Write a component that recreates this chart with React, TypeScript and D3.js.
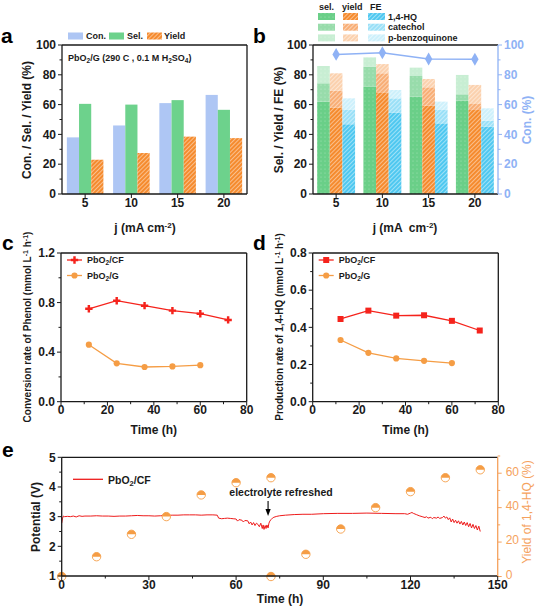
import React from "react";
import * as d3 from "d3";

const FONT = "'Liberation Sans', Arial, Helvetica, sans-serif";

// ---------- Panel a ----------
const currents = ["5", "10", "15", "20"];
const aConversion = [38, 46, 61, 66.5];
const aSelectivity = [60.5, 60, 63, 56.5];
const aYield = [23, 27.5, 38.5, 37.5];

// ---------- Panel b ----------
const bProducts = ["1,4-HQ", "catechol", "p-benzoquinone"];
const bSelHQ = [62, 72, 65.3, 62.6];
const bSelCatechol = [12.3, 13.4, 13.9, 4.3];
const bSelPBQ = [11.6, 6.3, 5.6, 13];
const bYieldHQ = [58, 68.2, 59.3, 56.4];
const bYieldCatechol = [11.3, 12.8, 12.3, 4];
const bYieldPBQ = [11.7, 6.2, 5.6, 12.8];
const bFeHQ = [46.8, 54.5, 47.4, 45.2];
const bFeCatechol = [9.6, 9.7, 9, 4];
const bFePBQ = [7.8, 5.6, 5.6, 8.3];
const bConversion = [93.7, 94.8, 90.6, 90.4];

// ---------- Panels c, d ----------
const cdTimeCF = [12, 24, 36, 48, 60, 72];
const cdTimeG = [12, 24, 36, 48, 60];
const cPhenolCF = [0.75, 0.815, 0.775, 0.735, 0.71, 0.66];
const cPhenolG = [0.46, 0.31, 0.28, 0.285, 0.295];
const dHqCF = [0.445, 0.49, 0.463, 0.465, 0.435, 0.383];
const dHqG = [0.332, 0.263, 0.233, 0.22, 0.208];

// ---------- Panel e ----------
const eTime = [
  0, 0.3, 0.6, 1, 2, 3, 4, 5, 6, 7, 8, 10, 12, 14, 16, 18, 20, 22, 24, 26, 28, 30, 32, 34, 36, 38, 40, 42, 44, 46, 48, 50, 52, 53.5,
  54, 55, 56, 57, 58, 59, 60, 60.5, 61, 62, 62.5, 63, 64, 64.5, 65, 65.5, 66, 66.5, 67, 67.5, 68, 68.5, 69, 69.3, 69.6, 70, 70.3, 70.6, 71,
  71.3, 71.6, 72, 72.5, 73, 74, 75, 77, 80, 83, 86, 90, 95, 100, 105, 110, 115, 118, 119, 120, 120.5, 121, 122, 123, 124, 125, 125.5, 126,
  127, 127.5, 128, 129, 129.5, 130, 131, 131.5, 132, 132.5, 133, 133.5, 134, 134.5, 135, 135.5, 136, 136.5, 137, 137.5, 138, 138.5, 139,
  139.5, 140, 140.5, 141, 141.5, 142, 142.5, 143, 143.5, 144,
];
const ePotential = [
  2.78, 2.95, 3.02, 3.0, 3.01, 3.0, 3.02, 2.99, 3.03, 3.01, 3.02, 3.02, 3.03, 3.02, 3.02, 3.01, 3.02, 3.02, 3.03, 3.04, 3.03, 3.03, 3.02, 3.03, 3.04, 3.05, 3.05, 3.06, 3.06, 3.06, 3.05, 3.06, 3.06, 3.05,
  2.95, 2.93, 2.94, 2.95, 2.94, 2.93, 2.92, 2.85, 2.9, 2.88, 2.82, 2.87, 2.86, 2.76, 2.82, 2.72, 2.8, 2.7, 2.78, 2.74, 2.66, 2.78, 2.6, 2.72, 2.57, 2.7, 2.6, 2.72, 2.62,
  2.78, 2.85, 2.9, 2.95, 2.98, 3.01, 3.03, 3.05, 3.07, 3.08, 3.08, 3.1, 3.11, 3.11, 3.12, 3.11, 3.1, 3.1, 3.08, 3.12, 3.14, 3.11, 3.07, 3.03, 3.0, 2.97, 3.0, 2.95,
  2.98, 2.93, 2.97, 2.95, 2.99, 2.94, 2.97, 3.02, 2.95, 2.99, 2.9, 2.96, 2.82, 2.92, 2.8, 2.88, 2.78, 2.86, 2.75, 2.84, 2.72, 2.82, 2.7,
  2.8, 2.66, 2.77, 2.62, 2.74, 2.6, 2.7, 2.55, 2.68, 2.5,
];
const eYieldTime = [0, 12, 24, 36, 48, 60, 72, 72, 84, 96, 108, 120, 132, 144];
const eYieldValues = [0, 11.5, 24.5, 34.8, 47.4, 54.5, 57.4, 0, 12.9, 27.6, 40, 49.3, 57.4, 62];

// ---------- colours ----------
const INK = "#1a1a1a";
const C_CON = "#aec6f4";
const C_SEL = "#6dd28c";
const C_ORANGE = "#f58b2e";
const C_BLUE_LINE = "#8fb2f5";
const C_RED = "#f5231c";
const C_ORG = "#f59d45";
const C_E_AXIS = "#f5a25d";

const greenShades = ["#6acf88", "#98dcab", "#c8eed3"];
const orangeShades = ["#f58b2e", "#f8ae76", "#fbd1ae"];
const blueShades = ["#4fc8f0", "#9ae0f7", "#cdf0fb"];

function Hatch({ id, base, op = 0.5 }: { id: string; base: string; op?: number }) {
  return (
    <pattern id={id} patternUnits="userSpaceOnUse" width={3} height={3} patternTransform="rotate(45)">
      <rect width={3} height={3} fill={base} />
      <line x1={0.5} y1={0} x2={0.5} y2={3} stroke="#fff" strokeWidth={0.9} strokeOpacity={op} />
    </pattern>
  );
}
function Dots({ id, base }: { id: string; base: string }) {
  return (
    <pattern id={id} patternUnits="userSpaceOnUse" width={4} height={4}>
      <rect width={4} height={4} fill={base} />
      <circle cx={1} cy={1} r={0.5} fill="#fff" fillOpacity={0.45} />
    </pattern>
  );
}

function leftAxis(scale: any, x: number, major: number[], minor: number[], fmt: (v: number) => string, color = INK, weight: any = "bold") {
  return (
    <g>
      {major.map((v) => (
        <g key={"M" + v}>
          <line x1={x - 4} x2={x} y1={scale(v)} y2={scale(v)} stroke={color} strokeWidth={1} />
          <text x={x - 6} y={scale(v)} dy="0.35em" textAnchor="end" fontSize={12} fontWeight={weight} fill={color}>
            {fmt(v)}
          </text>
        </g>
      ))}
      {minor.map((v) => (
        <line key={"m" + v} x1={x - 2.5} x2={x} y1={scale(v)} y2={scale(v)} stroke={color} strokeWidth={1} />
      ))}
    </g>
  );
}
function rightAxis(scale: any, x: number, major: number[], minor: number[], fmt: (v: number) => string, color = INK, weight: any = "bold", gap = 6, dyv = "0.35em") {
  return (
    <g>
      {major.map((v) => (
        <g key={"M" + v}>
          <line x1={x} x2={x + 4} y1={scale(v)} y2={scale(v)} stroke={color} strokeWidth={1} />
          <text x={x + gap} y={scale(v)} dy={dyv} textAnchor="start" fontSize={12} fontWeight={weight} fill={color}>
            {fmt(v)}
          </text>
        </g>
      ))}
      {minor.map((v) => (
        <line key={"m" + v} x1={x} x2={x + 2.5} y1={scale(v)} y2={scale(v)} stroke={color} strokeWidth={1} />
      ))}
    </g>
  );
}
function bottomAxis(pos: (v: any) => number, y: number, major: any[], minor: any[], fmt: (v: any) => string) {
  return (
    <g>
      {major.map((v) => (
        <g key={"M" + v}>
          <line x1={pos(v)} x2={pos(v)} y1={y} y2={y + 4} stroke={INK} strokeWidth={1} />
          <text x={pos(v)} y={y + 12.5} textAnchor="middle" fontSize={12} fontWeight="bold" fill={INK}>
            {fmt(v)}
          </text>
        </g>
      ))}
      {minor.map((v) => (
        <line key={"m" + v} x1={pos(v)} x2={pos(v)} y1={y} y2={y + 2.5} stroke={INK} strokeWidth={1} />
      ))}
    </g>
  );
}
function frame(x0: number, x1: number, y0: number, y1: number, rightColor = INK) {
  return (
    <g strokeWidth={1.3} fill="none">
      <line x1={x0} x2={x1} y1={y1} y2={y1} stroke={INK} />
      <line x1={x0} x2={x1} y1={y0} y2={y0} stroke={INK} />
      <line x1={x0} x2={x0} y1={y0} y2={y1} stroke={INK} />
      <line x1={x1} x2={x1} y1={y0} y2={y1} stroke={rightColor} />
    </g>
  );
}
function yTitle(x: number, y: number, content: any, size = 12, color = INK, weight: any = "bold") {
  return (
    <text transform={`translate(${x},${y}) rotate(-90)`} textAnchor="middle" fontSize={size} fontWeight={weight} fill={color}>
      {content}
    </text>
  );
}
const ticks = (a: number, b: number, s: number) => d3.range(a, b + s / 2, s).map((v) => +v.toFixed(4));

function PanelA() {
  const x = d3.scaleBand().domain(currents).range([62, 247]).paddingInner(0.21).paddingOuter(0.105);
  const sub = d3.scaleBand().domain(["con", "sel", "yield"]).range([0, x.bandwidth()]);
  const y = d3.scaleLinear().domain([0, 100]).range([194, 45]);
  const series = [
    { key: "con", vals: aConversion, fill: C_CON },
    { key: "sel", vals: aSelectivity, fill: C_SEL },
    { key: "yield", vals: aYield, fill: "url(#hatchA)" },
  ];
  return (
    <g>
      {series.map((s) =>
        currents.map((c, i) => (
          <rect key={s.key + c} x={(x(c) as number) + (sub(s.key) as number)} width={sub.bandwidth()} y={y(s.vals[i])} height={y(0) - y(s.vals[i])} fill={s.fill} />
        ))
      )}
      {frame(62, 247, 45, 194)}
      {leftAxis(y, 62, ticks(0, 100, 20), ticks(10, 90, 20), (v) => String(v))}
      {bottomAxis((c) => (x(c) as number) + x.bandwidth() / 2, 194, currents, [], (c) => c)}
      <text x={68} y={61} fontSize={9} fontWeight="bold" fill={INK}>
        PbO<tspan dy={2} fontSize={6.5}>2</tspan>
        <tspan dy={-2}>/G (290 C , 0.1 M H</tspan>
        <tspan dy={2} fontSize={6.5}>2</tspan>
        <tspan dy={-2}>SO</tspan>
        <tspan dy={2} fontSize={6.5}>4</tspan>
        <tspan dy={-2}>)</tspan>
      </text>
      {/* legend */}
      <g fontSize={9} fontWeight="bold" fill={INK}>
        <rect x={68} y={32.5} width={15} height={7} fill={C_CON} />
        <text x={86} y={39}>Con.</text>
        <rect x={109} y={32.5} width={15} height={7} fill={C_SEL} />
        <text x={127} y={39}>Sel.</text>
        <rect x={147} y={32.5} width={15} height={7} fill="url(#hatchA)" />
        <text x={164} y={39}>Yield</text>
      </g>
      {yTitle(31, 120, "Con. / Sel. / Yield (%)")}
      <text x={145} y={232} textAnchor="middle" fontSize={12} fontWeight="bold" fill={INK}>
        j (mA cm<tspan dy={-4} fontSize={8}>-2</tspan>
        <tspan dy={4}>)</tspan>
      </text>
      <text x={1} y={43} fontSize={21} fontWeight="bold" fill="#000">a</text>
    </g>
  );
}

function PanelB() {
  const x = d3.scaleBand().domain(currents).range([313, 498]).paddingInner(0.18).paddingOuter(0.09);
  const sub = d3.scaleBand().domain(["sel", "yield", "fe"]).range([0, x.bandwidth()]);
  const y = d3.scaleLinear().domain([0, 100]).range([194, 45]);
  const yr = d3.scaleLinear().domain([0, 100]).range([194, 45]);
  const keys = ["hq", "cat", "pbq"];
  const mk = (a: number[], b: number[], c: number[]) => currents.map((cur, i) => ({ cur, hq: a[i], cat: b[i], pbq: c[i] }));
  const groups = [
    { key: "sel", data: mk(bSelHQ, bSelCatechol, bSelPBQ), fills: ["url(#gS0)", "url(#gS1)", "url(#gS2)"] },
    { key: "yield", data: mk(bYieldHQ, bYieldCatechol, bYieldPBQ), fills: ["url(#oS0)", "url(#oS1)", "url(#oS2)"] },
    { key: "fe", data: mk(bFeHQ, bFeCatechol, bFePBQ), fills: ["url(#bS0)", "url(#bS1)", "url(#bS2)"] },
  ];
  const stack = d3.stack<any>().keys(keys);
  const cx = (c: string) => (x(c) as number) + x.bandwidth() / 2;
  const line = d3
    .line<number>()
    .x((_, i) => cx(currents[i]))
    .y((v) => yr(v));
  const diamond = d3.symbol().type(d3.symbolDiamond).size(48)();
  return (
    <g>
      {groups.map((g) =>
        stack(g.data).map((layer, li) =>
          layer.map((seg, i) => (
            <rect
              key={g.key + li + i}
              x={(x(currents[i]) as number) + (sub(g.key) as number)}
              width={sub.bandwidth()}
              y={y(seg[1])}
              height={y(seg[0]) - y(seg[1])}
              fill={g.fills[li]}
            />
          ))
        )
      )}
      <path d={line(bConversion) as string} fill="none" stroke={C_BLUE_LINE} strokeWidth={1.5} />
      {bConversion.map((v, i) => (
        <path key={"d" + i} d={diamond as string} transform={`translate(${cx(currents[i])},${yr(v)})`} fill={C_BLUE_LINE} />
      ))}
      {frame(313, 498, 45, 194, C_BLUE_LINE)}
      {leftAxis(y, 313, ticks(0, 100, 20), ticks(10, 90, 20), (v) => String(v))}
      {rightAxis(yr, 498, ticks(0, 100, 20), ticks(10, 90, 20), (v) => String(v), C_BLUE_LINE)}
      {bottomAxis((c) => cx(c), 194, currents, [], (c) => c)}
      {/* legend */}
      <g fontSize={9} fontWeight="bold" fill={INK}>
        <text x={319} y={10}>sel.</text>
        <text x={342} y={10}>yield</text>
        <text x={370} y={10}>FE</text>
        {bProducts.map((p, i) => {
          const yy = 13 + i * 10.7;
          return (
            <g key={p}>
              <rect x={318} y={yy} width={17} height={7} fill={groups[0].fills[i]} />
              <rect x={343} y={yy} width={15} height={7} fill={groups[1].fills[i]} />
              <rect x={368} y={yy} width={17} height={7} fill={groups[2].fills[i]} />
              <text x={388} y={yy + 6.5}>{p}</text>
            </g>
          );
        })}
      </g>
      {yTitle(283, 120, "Sel. / Yield / FE (%)")}
      {yTitle(531, 120, "Con. (%)", 12, C_BLUE_LINE)}
      <text x={405} y={232} textAnchor="middle" fontSize={12} fontWeight="bold" fill={INK} style={{ whiteSpace: "pre" }}>
        {"j (mA  cm"}
        <tspan dy={-4} fontSize={8}>-2</tspan>
        <tspan dy={4}>)</tspan>
      </text>
      <text x={253} y={43} fontSize={21} fontWeight="bold" fill="#000">b</text>
    </g>
  );
}

function LinePanel(props: {
  x0: number; x1: number; yMax: number; yMajor: number[]; yMinor: number[]; fmt: (v: number) => string;
  cf: number[]; g: number[]; cfSymbol: any; cfSize: number; title: string; label: string; labelX: number; titleX: number;
}) {
  const { x0, x1 } = props;
  const x = d3.scaleLinear().domain([0, 80]).range([x0, x1]);
  const y = d3.scaleLinear().domain([0, props.yMax]).range([401.7, 253]);
  const line = d3.line<[number, number]>().x((d) => x(d[0])).y((d) => y(d[1]));
  const cfPts = cdTimeCF.map((t, i) => [t, props.cf[i]] as [number, number]);
  const gPts = cdTimeG.map((t, i) => [t, props.g[i]] as [number, number]);
  const cfSym = d3.symbol().type(props.cfSymbol).size(props.cfSize)() as string;
  const gSym = d3.symbol().type(d3.symbolCircle).size(30)() as string;
  const lx = x0 + 6;
  return (
    <g>
      <path d={line(gPts) as string} fill="none" stroke={C_ORG} strokeWidth={1.3} />
      {gPts.map((p, i) => (
        <path key={"g" + i} d={gSym} transform={`translate(${x(p[0])},${y(p[1])})`} fill={C_ORG} />
      ))}
      <path d={line(cfPts) as string} fill="none" stroke={C_RED} strokeWidth={1.3} />
      {cfPts.map((p, i) => (
        <path key={"c" + i} d={cfSym} transform={`translate(${x(p[0])},${y(p[1])})`} fill={C_RED} />
      ))}
      {frame(x0, x1, 253, 401.7)}
      {leftAxis(y, x0, props.yMajor, props.yMinor, props.fmt)}
      {bottomAxis((v) => x(v), 401.7, ticks(0, 80, 20), ticks(10, 70, 20), (v) => String(v))}
      {/* legend */}
      <g fontSize={9} fontWeight="bold" fill={INK}>
        <line x1={lx} x2={lx + 15} y1={260} y2={260} stroke={C_RED} strokeWidth={1.3} />
        <path d={cfSym} transform={`translate(${lx + 7.5},260)`} fill={C_RED} />
        <text x={lx + 20} y={263.3}>
          PbO<tspan dy={2} fontSize={6.5}>2</tspan>
          <tspan dy={-2}>/CF</tspan>
        </text>
        <line x1={lx} x2={lx + 15} y1={275.5} y2={275.5} stroke={C_ORG} strokeWidth={1.3} />
        <path d={gSym} transform={`translate(${lx + 7.5},275.5)`} fill={C_ORG} />
        <text x={lx + 20} y={278.8}>
          PbO<tspan dy={2} fontSize={6.5}>2</tspan>
          <tspan dy={-2}>/G</tspan>
        </text>
      </g>
      {yTitle(props.titleX, 327, (
        <>
          {props.title} (mmol L<tspan dy={-3.5} fontSize={7}>-1</tspan>
          <tspan dy={3.5}> h</tspan>
          <tspan dy={-3.5} fontSize={7}>-1</tspan>
          <tspan dy={3.5}>)</tspan>
        </>
      ), 10)}
      <text x={(x0 + x1) / 2} y={434} textAnchor="middle" fontSize={12} fontWeight="bold" fill={INK}>Time (h)</text>
      <text x={props.labelX} y={250} fontSize={21} fontWeight="bold" fill="#000">{props.label}</text>
    </g>
  );
}

function PanelE() {
  const x = d3.scaleLinear().domain([0, 150]).range([61.7, 497.7]);
  const y = d3.scaleLinear().domain([1, 5]).range([576, 457.3]);
  const yr = d3.scaleLinear().domain([0, 70]).range([576.5, 456]);
  const line = d3.line<number>().x((_, i) => x(eTime[i])).y((v) => y(v));
  const r = 4.2;
  const ax = x(71);
  return (
    <g>
      <path d={line(ePotential) as string} fill="none" stroke="#ee1b1b" strokeWidth={1} />
      {eYieldValues.map((v, i) => {
        const cx = x(eYieldTime[i]);
        const cy = yr(v);
        return (
          <g key={"p" + i}>
            <circle cx={cx} cy={cy} r={r} fill="#fff" stroke={C_ORG} strokeWidth={0.9} />
            <path d={`M${cx - r},${cy} A${r},${r} 0 0 1 ${cx + r},${cy} Z`} fill={C_ORG} />
          </g>
        );
      })}
      {frame(61.7, 497.7, 457.3, 576, C_E_AXIS)}
      {leftAxis(y, 61.7, ticks(1, 5, 1), ticks(1.5, 4.5, 1), (v) => String(v))}
      {rightAxis(yr, 497.7, ticks(0, 60, 20), ticks(10, 70, 20), (v) => String(v), C_E_AXIS, "normal", 8, "0.2em")}
      {bottomAxis((v) => x(v), 576, ticks(0, 150, 30), ticks(15, 135, 30), (v) => String(v))}
      {/* legend */}
      <line x1={73} x2={103} y1={479.3} y2={479.3} stroke="#ee1b1b" strokeWidth={1.3} />
      <text x={108} y={483.5} fontSize={10.5} fontWeight="bold" fill={INK}>
        PbO<tspan dy={2.5} fontSize={7.5}>2</tspan>
        <tspan dy={-2.5}>/CF</tspan>
      </text>
      {/* annotation */}
      <text x={281} y={496} textAnchor="middle" fontSize={10.5} fontWeight="bold" fill={INK}>electrolyte refreshed</text>
      <line x1={ax} x2={ax} y1={501} y2={511} stroke="#000" strokeWidth={1.1} />
      <path d={`M${ax - 2.6},${509} L${ax + 2.6},${509} L${ax},${516} Z`} fill="#000" />
      {yTitle(40, 517, "Potential (V)")}
      {yTitle(531, 512, "Yield of 1,4-HQ (%)", 12, C_E_AXIS, "normal")}
      <text x={280} y={603} textAnchor="middle" fontSize={12} fontWeight="bold" fill={INK}>Time (h)</text>
      <text x={2} y={457} fontSize={21} fontWeight="bold" fill="#000">e</text>
    </g>
  );
}

export default function App() {
  return (
    <svg width={539} height={606} viewBox="0 0 539 606" fontFamily={FONT} style={{ position: "absolute", left: 0, top: 0, display: "block" }}>
      <defs>
        <Hatch id="hatchA" base={C_ORANGE} />
        <Dots id="gS0" base={greenShades[0]} />
        <Dots id="gS1" base={greenShades[1]} />
        <Dots id="gS2" base={greenShades[2]} />
        <Hatch id="oS0" base={orangeShades[0]} />
        <Hatch id="oS1" base={orangeShades[1]} />
        <Hatch id="oS2" base={orangeShades[2]} />
        <Hatch id="bS0" base={blueShades[0]} />
        <Hatch id="bS1" base={blueShades[1]} />
        <Hatch id="bS2" base={blueShades[2]} />
      </defs>
      <rect width={539} height={606} fill="#fff" />
      <PanelA />
      <PanelB />
      <LinePanel
        x0={61} x1={246.7} yMax={1.2} yMajor={ticks(0, 1.2, 0.4)} yMinor={ticks(0.2, 1.0, 0.4)} fmt={(v) => v.toFixed(1)}
        cf={cPhenolCF} g={cPhenolG} cfSymbol={d3.symbolCross} cfSize={30} title="Conversion rate of Phenol" label="c" labelX={2} titleX={31}
      />
      <LinePanel
        x0={312.7} x1={498.3} yMax={0.8} yMajor={ticks(0, 0.8, 0.2)} yMinor={ticks(0.1, 0.7, 0.2)} fmt={(v) => v.toFixed(1)}
        cf={dHqCF} g={dHqG} cfSymbol={d3.symbolSquare} cfSize={36} title="Production rate of 1,4-HQ" label="d" labelX={253} titleX={283}
      />
      <PanelE />
    </svg>
  );
}
